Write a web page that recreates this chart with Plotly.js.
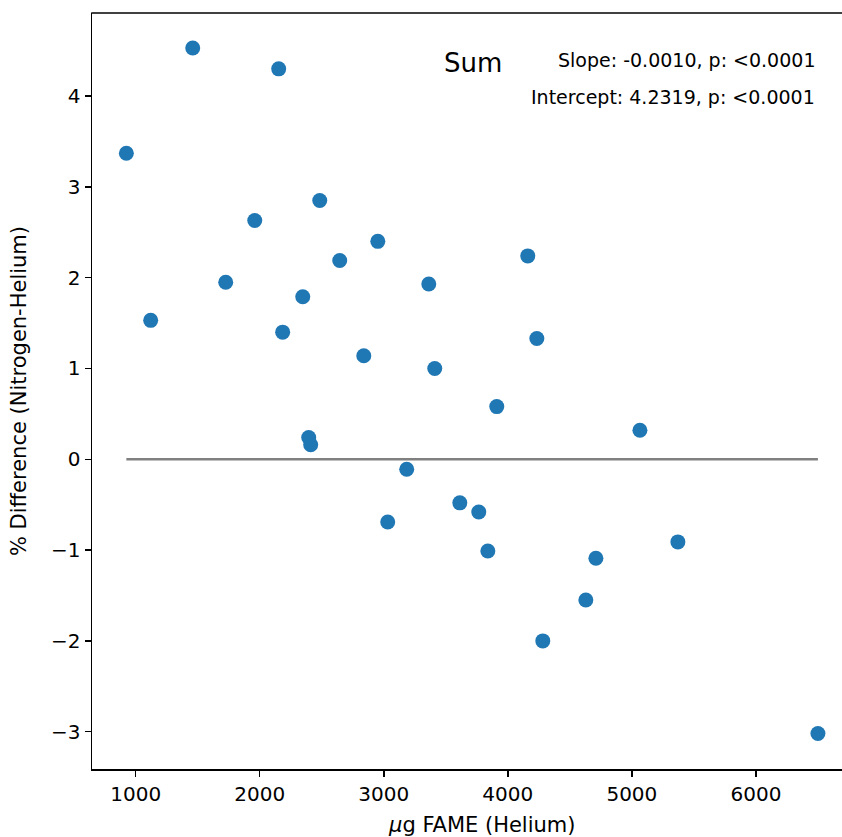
<!DOCTYPE html>
<html>
<head>
<meta charset="utf-8">
<script src="https://cdn.plot.ly/plotly-3.0.1.min.js"></script>
<style>
html, body { margin: 0; padding: 0; overflow: hidden; background: #fff; }
#chart { width: 842px; height: 837px; }
</style>
</head>
<body>
<div id="chart"></div>
<script>
// Data
const fameHelium = [925, 1460, 2153, 1121, 1726, 1960, 2185, 2347, 2484, 2645,
  2952, 2839, 3363, 3411, 2395, 2411, 3185, 3032, 3613, 3766,
  3839, 3911, 4161, 4234, 4282, 4629, 4710, 5065, 5371, 6500];
const pctDiff = [3.37, 4.53, 4.30, 1.53, 1.95, 2.63, 1.40, 1.79, 2.85, 2.19,
  2.40, 1.14, 1.93, 1.00, 0.24, 0.16, -0.11, -0.69, -0.48, -0.58,
  -1.01, 0.58, 2.24, 1.33, -2.00, -1.55, -1.09, 0.32, -0.91, -3.02];
const zeroLineX = [925, 6500];
const zeroLineY = [0, 0];
const xTickVals = [1000, 2000, 3000, 4000, 5000, 6000];
const xTickText = ["1000", "2000", "3000", "4000", "5000", "6000"];
const yTickVals = [-3, -2, -1, 0, 1, 2, 3, 4];
const yTickText = ["\u22123", "\u22122", "\u22121", "0", "1", "2", "3", "4"];
const titleText = "Sum";
const slopeText = "Slope: -0.0010, p: <0.0001";
const interceptText = "Intercept: 4.2319, p: <0.0001";
const xTitleText = "<i>\u03bc</i>g FAME (Helium)";
const yTitleText = "% Difference (Nitrogen-Helium)";

const font = "DejaVu Sans, sans-serif";

const traces = [
  {
    x: zeroLineX, y: zeroLineY, type: "scatter", mode: "lines",
    line: { color: "#808080", width: 2.5 }, hoverinfo: "skip"
  },
  {
    x: fameHelium, y: pctDiff, type: "scatter", mode: "markers",
    marker: { color: "#1f77b4", size: 15 }
  }
];

const layout = {
  width: 842, height: 837,
  margin: { l: 92, r: 0, t: 13, b: 68 },
  paper_bgcolor: "#fff", plot_bgcolor: "#fff",
  showlegend: false,
  font: { family: font, color: "#000", size: 20 },
  xaxis: {
    range: [648, 6694],
    tickvals: xTickVals, ticktext: xTickText,
    ticks: "outside", ticklen: 6, tickwidth: 1.5, tickcolor: "#000",
    showgrid: false, zeroline: false,
    showline: true, linecolor: "#000", linewidth: 1.5, mirror: false,
    tickfont: { family: font, size: 20, color: "#000" }
  },
  yaxis: {
    range: [-3.411, 4.915],
    tickvals: yTickVals, ticktext: yTickText,
    ticks: "outside", ticklen: 6, tickwidth: 1.5, tickcolor: "#000",
    showgrid: false, zeroline: false,
    showline: true, linecolor: "#000", linewidth: 1.5, mirror: false,
    tickfont: { family: font, size: 20, color: "#000" },
    title: { text: yTitleText, font: { family: font, size: 21, color: "#000" }, standoff: 18 }
  },
  shapes: [
    { type: "line", xref: "paper", yref: "paper", x0: -0.001, x1: 1.01, y0: 1, y1: 1,
      line: { color: "#000", width: 1.5 } }
  ],
  annotations: [
    { text: titleText, xref: "paper", yref: "paper", x: 0.508, y: 0.934,
      xanchor: "center", yanchor: "middle", showarrow: false,
      font: { family: font, size: 26, color: "#000" } },
    { text: slopeText, xref: "paper", yref: "paper", x: 0.967, y: 0.938,
      xanchor: "right", yanchor: "middle", showarrow: false,
      font: { family: font, size: 19, color: "#000" } },
    { text: interceptText, xref: "paper", yref: "paper", x: 0.967, y: 0.889,
      xanchor: "right", yanchor: "middle", showarrow: false,
      font: { family: font, size: 19, color: "#000" } },
    { text: xTitleText, xref: "paper", yref: "paper", x: 0.52, y: -0.074,
      xanchor: "center", yanchor: "middle", showarrow: false,
      font: { family: font, size: 21, color: "#000" } }
  ]
};

Plotly.newPlot("chart", traces, layout, { displayModeBar: false, staticPlot: true });
</script>
</body>
</html>
